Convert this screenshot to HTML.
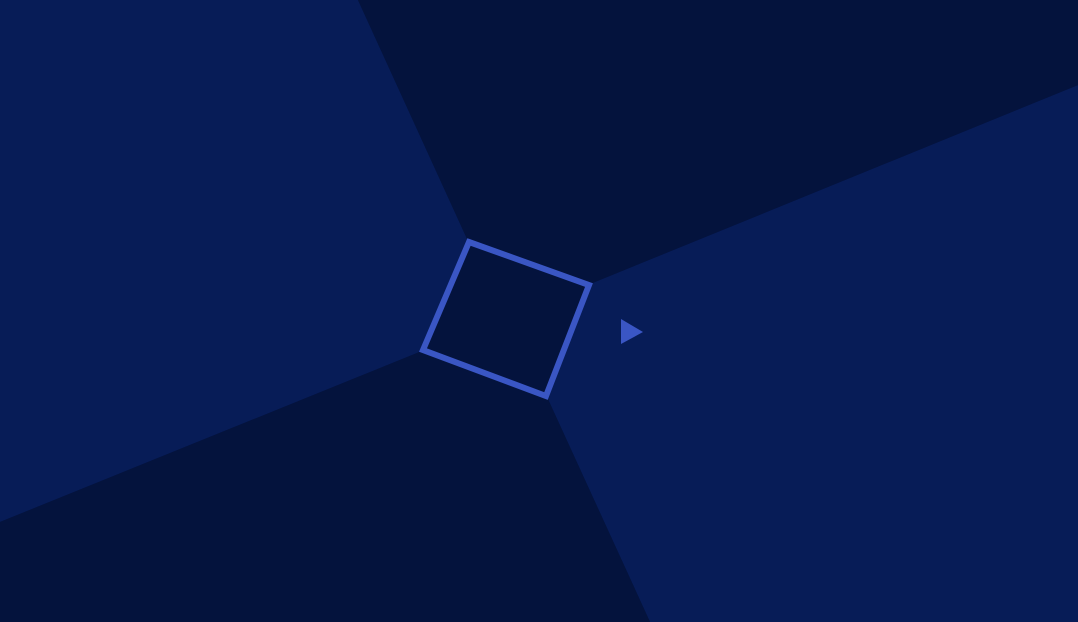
<!DOCTYPE html>
<html><head><meta charset="utf-8"><style>html,body{margin:0;padding:0;background:#04133d}svg{display:block}</style></head>
<body>
<svg width="1078" height="622" viewBox="0 0 1078 622">
<rect x="0" y="0" width="1078" height="622" fill="#04133d"/>
<polygon points="0,0 358,0 468,241 422,351 0,522" fill="#071c57"/>
<polygon points="590,284 1078,85 1078,622 650,622 547,397" fill="#071c57"/>
<polygon points="358,0 1078,0 1078,85 590,284 468,241" fill="#04133d"/>
<polygon points="0,522 422,351 547,397 650,622 0,622" fill="#04133d"/>
<polygon points="469,242 589,285 546,396 423,350" fill="#04133d" stroke="#3a56c4" stroke-width="6" stroke-linejoin="miter"/>
<polygon points="621,319 643,332 621,344" fill="#3a56c4"/>
</svg>
</body></html>
